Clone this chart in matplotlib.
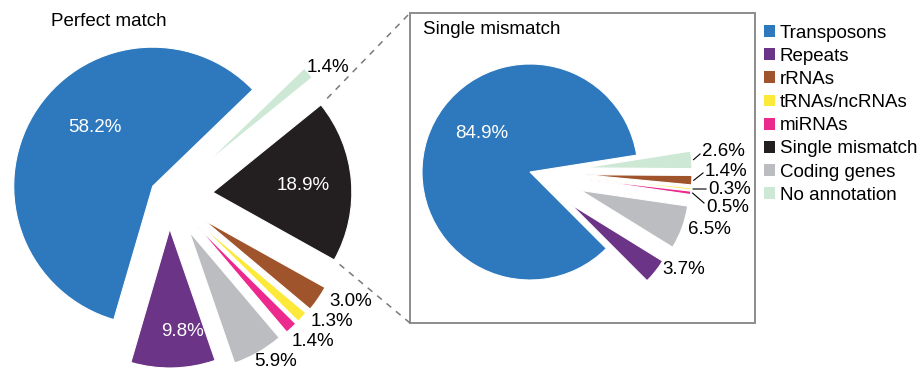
import numpy as np
import matplotlib.pyplot as plt
from matplotlib.patches import Patch, Rectangle

plt.rcParams['font.family'] = ['Liberation Sans', 'DejaVu Sans']

# taille de l'image en pixels
W, H = 917, 369

###### DONNÉES ######
categories = ["Transposons", "Repeats", "Coding genes", "miRNAs",
              "tRNAs/ncRNAs", "rRNAs", "Single mismatch", "No annotation"]
perfect_values = [58.2, 9.8, 5.9, 1.4, 1.3, 3.0, 18.9, 1.4]

single_categories = ["Transposons", "Repeats", "Coding genes", "miRNAs",
                     "tRNAs/ncRNAs", "rRNAs", "No annotation"]
single_values = [84.9, 3.7, 6.5, 0.5, 0.3, 1.4, 2.6]

legend_order = ["Transposons", "Repeats", "rRNAs", "tRNAs/ncRNAs", "miRNAs",
                "Single mismatch", "Coding genes", "No annotation"]

colors = {
    "Transposons": "#2e79bd",
    "Repeats": "#6b3486",
    "Coding genes": "#bcbdc0",
    "miRNAs": "#ec2a8e",
    "tRNAs/ncRNAs": "#fde93a",
    "rRNAs": "#a0542b",
    "Single mismatch": "#231f20",
    "No annotation": "#cde8d4",
}

###### MISE EN PAGE ######
FS = 13.5
def Y(y):  # y image -> y data
    return H - y

fig = plt.figure(figsize=(W / 100, H / 100), dpi=100)
ax = fig.add_axes([0, 0, 1, 1])

# --- camembert de gauche : perfect match
r1 = 139
c1 = (169, Y(196))
explode1 = [19, 33, 41, 41, 41, 42, 44, 47]
w1, _ = ax.pie(perfect_values, colors=[colors[c] for c in categories],
               startangle=44, counterclock=True, radius=r1, center=c1,
               explode=explode1,
               wedgeprops=dict(edgecolor="white", linewidth=0.8))

# positions des étiquettes (pixels image)
lab1_pos = [(95, 127), (183, 332), (276, 361), (313, 342),
            (332, 322), (351, 302), (303, 186), (328, 68)]
lab1_white = [True, True, False, False, False, False, True, False]
for v, (x, y), wh in zip(perfect_values, lab1_pos, lab1_white):
    ax.text(x, Y(y), f"{v:.1f}%", ha="center", va="center", fontsize=FS,
            color="white" if wh else "black")

ax.text(51, Y(22), "Perfect match", ha="left", va="center", fontsize=FS)

# --- camembert de droite : single mismatch
r2 = 108
c2 = (530, Y(172))
explode2 = [0, 52, 54, 54, 54, 54, 54]
w2, _ = ax.pie(single_values, colors=[colors[c] for c in single_categories],
               startangle=9, counterclock=True, radius=r2, center=c2,
               explode=explode2,
               wedgeprops=dict(edgecolor="white", linewidth=0.8))

ax.text(482, Y(133), f"{single_values[0]:.1f}%", ha="center", va="center",
        fontsize=FS, color="white")
lab2_pos = [(662, 269), (688, 229), (706, 208), (708, 189), (705, 172), (702, 152)]
lead_dy = [None, None, -5, 0, 1, 2]
for i, (x, y) in enumerate(lab2_pos):
    v = single_values[i + 1]
    ax.text(x, Y(y), f"{v:.1f}%", ha="left", va="center", fontsize=FS)
    if lead_dy[i] is not None:
        w = w2[i + 1]
        tm = np.deg2rad((w.theta1 + w.theta2) / 2)
        sx = w.center[0] + (w.r + 2) * np.cos(tm)
        sy = w.center[1] + (w.r + 2) * np.sin(tm)
        ax.plot([sx, x - 2], [sy, Y(y) - lead_dy[i]], color="black", lw=0.8)

# cadre
bx0, by0, bx1, by1 = 410, 13, 755, 323
ax.add_patch(Rectangle((bx0, Y(by1)), bx1 - bx0, by1 - by0, fill=False,
                       edgecolor="#8c8c8c", lw=1.4))
ax.text(423, Y(29), "Single mismatch", ha="left", va="center", fontsize=FS)

# lignes pointillées depuis le secteur "Single mismatch"
wb = w1[categories.index("Single mismatch")]
for th, corner in [(wb.theta2, (bx0, Y(by0))), (wb.theta1, (bx0, Y(by1)))]:
    px = wb.center[0] + wb.r * np.cos(np.deg2rad(th))
    py = wb.center[1] + wb.r * np.sin(np.deg2rad(th))
    sx = px + 0.07 * (corner[0] - px)
    sy = py + 0.07 * (corner[1] - py)
    ax.plot([sx, corner[0]], [sy, corner[1]], color="#7a7a7a", lw=1.1,
            linestyle=(0, (4, 4)))

# légende
handles = [Patch(facecolor=colors[c], edgecolor="none") for c in legend_order]
ax.legend(handles, legend_order, loc="upper left",
          bbox_to_anchor=(764 / W, 1 - 24.5 / H), frameon=False,
          fontsize=FS, handlelength=0.6, handleheight=0.6,
          handletextpad=0.25, labelspacing=0.33, borderpad=0,
          borderaxespad=0)

ax.set_xlim(0, W)
ax.set_ylim(0, H)
ax.axis("off")

plt.savefig("out.png", dpi=100)
